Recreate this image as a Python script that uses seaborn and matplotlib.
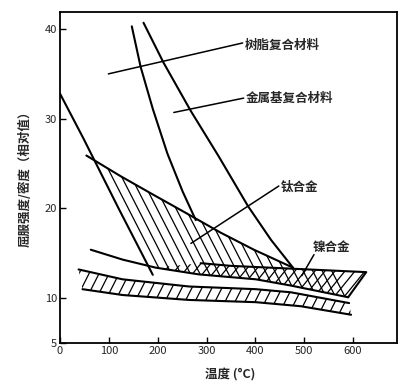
import numpy as np
import matplotlib
matplotlib.use("Agg")
import matplotlib.pyplot as plt
import seaborn as sns
from matplotlib.patches import Polygon
from matplotlib.collections import LineCollection

sns.set_style("ticks")
plt.rcParams['font.family'] = ['Noto Sans CJK SC', 'DejaVu Sans']

# ---- curves (temperature C, strength/density) ----
resin_t = [147, 165, 190, 220, 251, 278]
resin_s = [40.3, 35.8, 31.1, 26.1, 21.9, 18.7]

mmc_t = [171, 212, 268, 325, 385, 432, 477]
mmc_s = [40.7, 36.25, 30.85, 25.8, 20.25, 16.5, 13.4]

ti_edge_t = [0, 48, 120, 190]
ti_edge_s = [32.8, 27.8, 20.0, 12.6]

ti_top_t = [54, 124, 192, 261, 329, 397, 477]
ti_top_s = [25.9, 23.6, 21.5, 19.4, 17.3, 15.4, 13.4]

ti_low_t = [63, 128, 196, 284, 401, 473, 590]
ti_low_s = [15.4, 14.3, 13.4, 12.65, 12.1, 11.4, 10.1]

ni_top_t = [288, 350, 627, 590]
ni_top_s = [13.9, 13.6, 12.9, 10.1]

band_top_t = [38, 128, 264, 401, 473, 592]
band_top_s = [13.2, 12.1, 11.3, 11.0, 10.65, 9.45]
band_low_t = [46, 128, 264, 401, 493, 596]
band_low_s = [11.0, 10.35, 9.8, 9.55, 9.1, 8.15]

x_ticks = [0, 100, 200, 300, 400, 500, 600]
y_ticks = [5, 10, 20, 30, 40]

labels = ["树脂复合材料", "金属基复合材料", "钛合金", "镍合金"]
label_pos = [(379, 38.2), (380, 32.3), (452, 22.35), (518, 15.6)]
leaders = [((99, 35.0), (374, 38.45)), ((233, 30.7), (376, 32.3)),
           ((268, 16.1), (448, 22.5)), ((495, 12.5), (520, 14.85))]


def hatch(ax, xs, ys, slope, step, start, n):
    poly = Polygon(np.column_stack([xs, ys]), closed=True, fc='none', ec='none')
    ax.add_patch(poly)
    yy = np.array([4.0, 43.0])
    segs = [np.column_stack([c + slope * yy, yy]) for c in start + step * np.arange(n)]
    lc = LineCollection(segs, colors='black', linewidths=0.9)
    ax.add_collection(lc)
    lc.set_clip_path(poly)


fig = plt.figure(figsize=(4.14, 3.88), dpi=100)
ax = fig.add_axes([60 / 414, 45 / 388, 337 / 414, 331 / 388])

for t, s in [(resin_t, resin_s), (mmc_t, mmc_s), (ti_edge_t, ti_edge_s),
             (ti_top_t, ti_top_s), (ti_low_t, ti_low_s), (ni_top_t, ni_top_s),
             (band_top_t, band_top_s), (band_low_t, band_low_s)]:
    sns.lineplot(x=t, y=s, sort=False, color='black', lw=1.5, ax=ax, estimator=None)

# titanium: hatch parallel to its left edge
ti_slope = (ti_edge_t[-1] - ti_edge_t[0]) / (ti_edge_s[-1] - ti_edge_s[0])
c0 = ti_edge_t[0] - ti_slope * ti_edge_s[0]
hatch(ax, ti_top_t + [560] + ti_low_t[::-1], ti_top_s + [13.0] + ti_low_s[::-1],
      ti_slope, 19.5, c0 + 19.5, 45)
# nickel band
hatch(ax, ni_top_t + ti_low_t[::-1][:5], ni_top_s + ti_low_s[::-1][:5], 14.9, 20.5, 0, 45)
# lower band
hatch(ax, band_top_t + band_low_t[::-1], band_top_s + band_low_s[::-1], 9.3, 20.5, -100, 40)

for (p0, p1) in leaders:
    ax.plot([p0[0], p1[0]], [p0[1], p1[1]], color='black', lw=1.1)
for txt, (x, y) in zip(labels, label_pos):
    ax.text(x, y, txt, fontsize=9, fontweight='bold', ha='left', va='center')

ax.set_xlim(0, 690)
ax.set_ylim(5, 41.9)
ax.set_xticks(x_ticks)
ax.set_yticks(y_ticks)
ax.tick_params(direction='in', length=4, width=1, labelsize=8, pad=2, color='black')
for sp in ax.spines.values():
    sp.set_linewidth(1.3)
    sp.set_color('black')

ax.set_xlabel("温度 (°C)", fontsize=9, fontweight='bold')
ax.set_ylabel("屈服强度/密度（相对值）", fontsize=9, fontweight='bold')
ax.xaxis.set_label_coords(0.506, -0.078)
ax.yaxis.set_label_coords(-0.083, 0.505)

fig.savefig("out.png", dpi=100)
